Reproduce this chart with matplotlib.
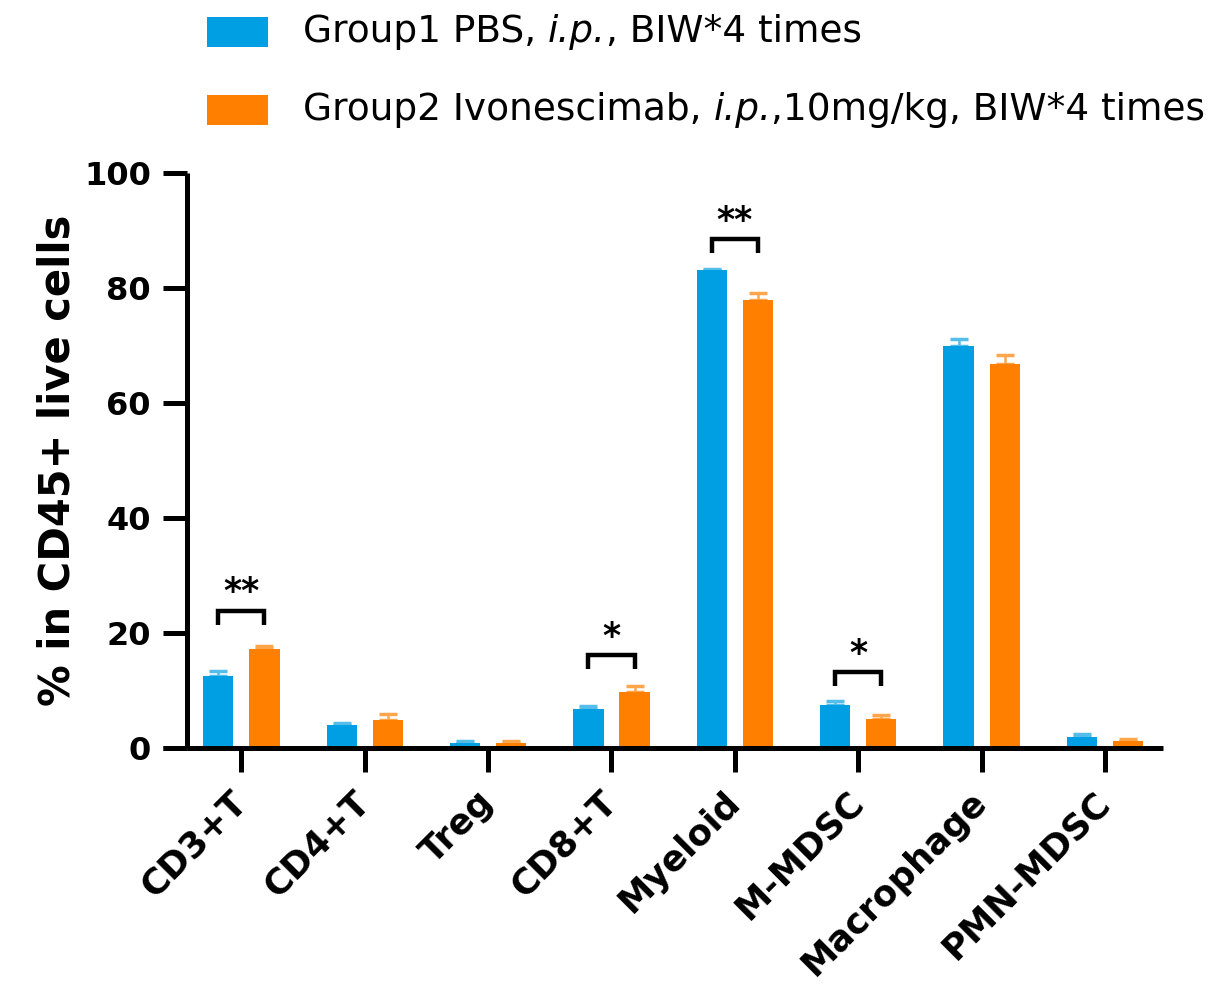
import matplotlib
matplotlib.use("Agg")
import matplotlib.pyplot as plt
import numpy as np
from matplotlib.offsetbox import (AnchoredOffsetbox, DrawingArea, HPacker,
                                  TextArea)
from matplotlib.patches import Rectangle

plt.rcParams["font.family"] = ["DejaVu Sans"]

categories = ["CD3+T", "CD4+T", "Treg", "CD8+T", "Myeloid", "M-MDSC", "Macrophage", "PMN-MDSC"]
pbs_mean = [12.6, 4.0, 0.8, 6.7, 83.1, 7.4, 69.8, 1.9]
pbs_sem = [0.8, 0.4, 0.5, 0.6, 0.2, 0.7, 1.3, 0.5]
ivo_mean = [17.2, 4.9, 0.8, 9.8, 77.9, 5.0, 66.7, 1.2]
ivo_sem = [0.5, 1.0, 0.5, 1.0, 1.2, 0.7, 1.6, 0.3]
# legend text split into (plain, italic, plain) parts
series_labels = [("Group1 PBS,", "i.p.", ", BIW*4 times"),
                 ("Group2 Ivonescimab,", "i.p.", ",10mg/kg, BIW*4 times")]
yticks = [0, 20, 40, 60, 80, 100]

# significance brackets: (category index, bracket top, label)
sig_marks = [(0, 23.9, "**"), (3, 16.2, "*"), (4, 88.5, "**"), (5, 13.2, "*")]

blue = "#009EE2"
orange = "#FF8000"
blue_err = "#55BDEA"
orange_err = "#FFA64D"
colors = [blue, orange]

fig = plt.figure(figsize=(12.2, 9.85), dpi=100)
ax = fig.add_axes([0.1533, 0.2406, 0.8, 0.584])

x = np.arange(len(categories))
off = 0.187
w = 0.245
ax.bar(x - off, pbs_mean, w, color=blue, zorder=2)
ax.bar(x + off, ivo_mean, w, color=orange, zorder=2)
ax.errorbar(x - off, pbs_mean, yerr=[np.zeros(len(x)), pbs_sem], fmt="none",
            ecolor=blue_err, elinewidth=1.8, capsize=6.5, capthick=2.5, zorder=1)
ax.errorbar(x + off, ivo_mean, yerr=[np.zeros(len(x)), ivo_sem], fmt="none",
            ecolor=orange_err, elinewidth=1.8, capsize=6.5, capthick=2.5, zorder=1)

# significance brackets
leg = 2.5
for i, top, lab in sig_marks:
    xs = [i - off, i - off, i + off, i + off]
    ys = [top - leg, top, top, top - leg]
    ax.plot(xs, ys, color="black", lw=3.2, solid_joinstyle="miter", solid_capstyle="butt")
    ax.text(i, top + 0.2, lab, ha="center", va="bottom", fontsize=25, fontweight="bold")

ax.set_xlim(-0.44, 7.47)
ax.set_ylim(0, 100)
ax.set_yticks(yticks)
ax.set_yticklabels([str(t) for t in yticks], fontsize=23, fontweight="bold")
ax.set_xticks(x)
ax.set_xticklabels(categories, rotation=45, ha="right", va="center",
                   rotation_mode="anchor", fontsize=25.5, fontweight="bold")
ax.set_ylabel("% in CD45+ live cells", fontsize=30, fontweight="bold", labelpad=4)

for s in ["top", "right"]:
    ax.spines[s].set_visible(False)
for s in ["left", "bottom"]:
    ax.spines[s].set_linewidth(3.6)
    ax.spines[s].set_capstyle("butt")
ax.tick_params(axis="both", direction="out", length=17, width=3.6)
ax.tick_params(axis="y", pad=9)
ax.tick_params(axis="x", pad=18)
# x axis line continues past the y axis by a tick length
ax.plot([-0.44 - 24 / 123.4, -0.44], [0, 0], color="black", lw=3.6,
        clip_on=False, solid_capstyle="butt")

# legend rows: colour square followed by mixed-style text
legend_fs = 27
space_pt = 0.318 * legend_fs
row_y = [1 - 32 / 985, 1 - 110 / 985]
for (plain1, ital, plain2), col, yy in zip(series_labels, colors, row_y):
    da = DrawingArea(44, 21.6, 0, 0)
    da.add_artist(Rectangle((0, 0), 44, 21.6, facecolor=col, edgecolor="none"))
    t1 = TextArea(plain1, textprops=dict(fontsize=legend_fs))
    t2 = TextArea(ital, textprops=dict(fontsize=legend_fs, fontstyle="italic"))
    t3 = TextArea(plain2, textprops=dict(fontsize=legend_fs))
    first = HPacker(children=[t1, t2], sep=space_pt, pad=0, align="baseline")
    text = HPacker(children=[first, t3], sep=0, pad=0, align="baseline")
    row = HPacker(children=[da, text], sep=25, pad=0, align="center")
    box = AnchoredOffsetbox(loc="center left", child=row, pad=0, borderpad=0,
                            frameon=False, bbox_to_anchor=(207 / 1220, yy),
                            bbox_transform=fig.transFigure)
    fig.add_artist(box)

fig.savefig("out.png", dpi=100)
